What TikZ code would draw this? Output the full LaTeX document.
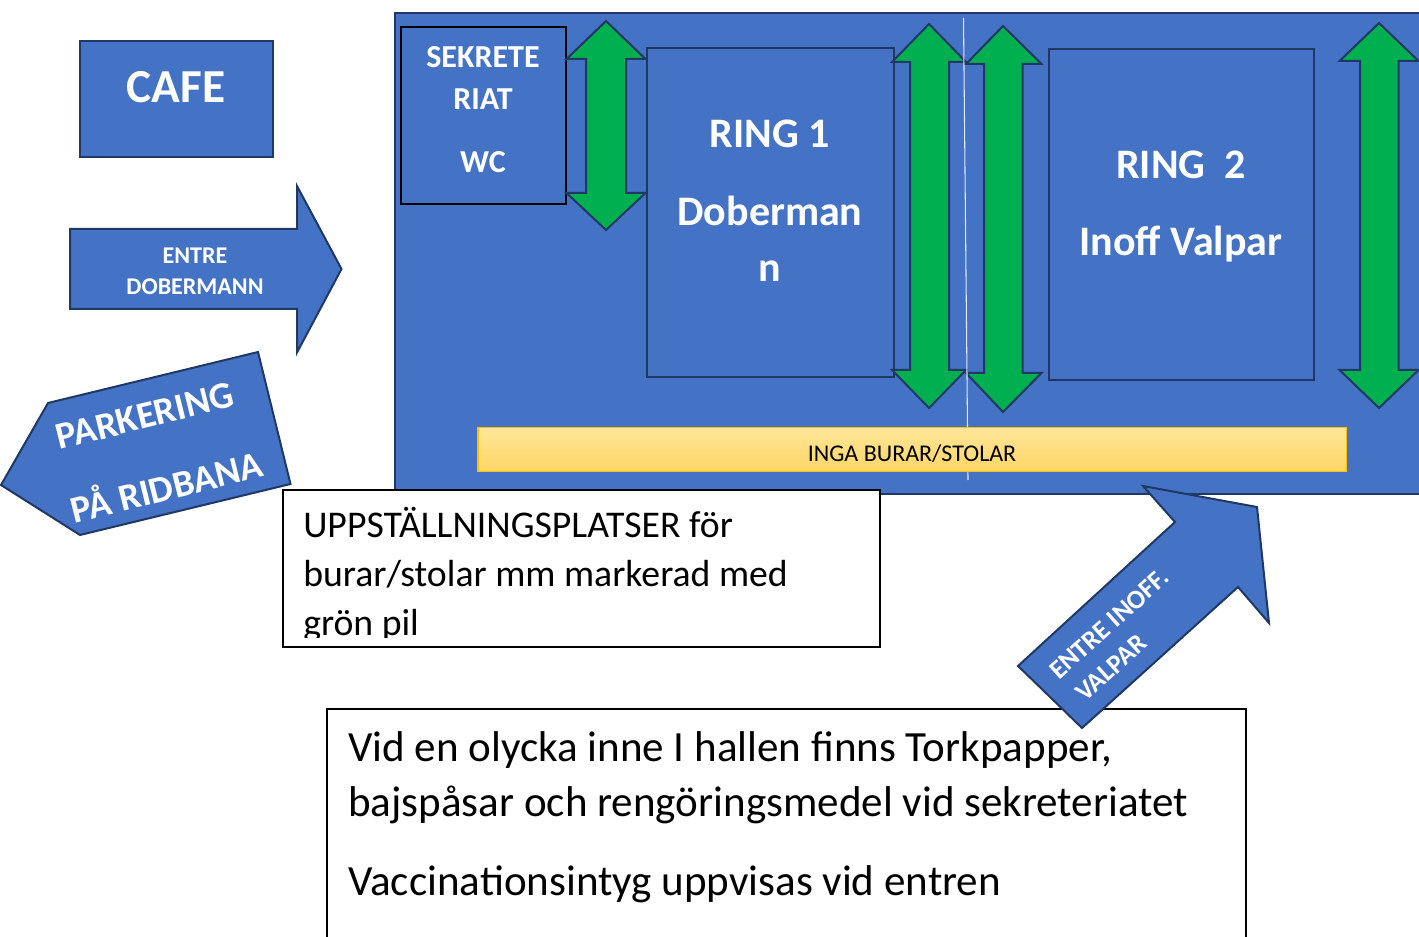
\documentclass[tikz,border=0pt]{standalone}
\usepackage{fontspec}
\setmainfont{Carlito}
\usepackage{tikz}
\definecolor{hallblue}{RGB}{68,114,196}
\definecolor{edgenavy}{RGB}{32,56,100}
\definecolor{pilgreen}{RGB}{0,176,80}
\definecolor{barlight}{RGB}{255,230,153}
\definecolor{bardark}{RGB}{255,214,102}
\definecolor{baredge}{RGB}{255,192,0}

\begin{document}
\begin{tikzpicture}[x=0.75pt,y=0.75pt,yscale=-1,xscale=1,
  blueshape/.style={draw=edgenavy,fill=hallblue,line width=1.5pt},
  greenpil/.style={draw=edgenavy,fill=pilgreen,line width=1.5pt},
  textbox/.style={draw=black,fill=white,line width=1pt},
  sekrtext/.style={text=white,inner sep=0pt,anchor=base,font=\fontsize{24}{29}\selectfont\bfseries},
  ringtext/.style={text=white,inner sep=0pt,anchor=base,font=\fontsize{31.5}{38}\selectfont\bfseries},
  cafetext/.style={text=white,inner sep=0pt,anchor=base,font=\fontsize{35.5}{42}\selectfont\bfseries},
  skylttext/.style={text=white,inner sep=0pt,anchor=base,font=\fontsize{18}{22}\selectfont\bfseries},
  parktext/.style={text=white,inner sep=0pt,rotate=14,font=\fontsize{28.4}{34}\selectfont\bfseries},
  inofftext/.style={text=white,inner sep=0pt,rotate=42,font=\fontsize{20}{24}\selectfont\bfseries},
  bartext/.style={text=black,inner sep=0pt,anchor=base,font=\fontsize{18}{22}\selectfont},
  notetext/.style={text=black,inner sep=0pt,anchor=base west,font=\fontsize{28.3}{34}\selectfont},
  infotext/.style={text=black,inner sep=0pt,anchor=base west,font=\fontsize{32.3}{38}\selectfont}
]
\useasboundingbox (0,0) rectangle (1419,937);

%Shape: Rectangle (hallen)
\draw [blueshape] (394.5,13) rectangle (1430,494) ;
%Shape: Rectangle (sekretariat)
\draw [fill=hallblue,draw=black,line width=1.6pt] (401,27) rectangle (566,204) ;
%Shape: Rectangle (ring 1)
\draw [blueshape] (646.5,48) rectangle (894,377) ;
%Shape: Rectangle (ring 2)
\draw [blueshape] (1049,49) rectangle (1314,380) ;

%Up Down Arrow
\draw [greenpil] (606,21) -- (645.5,59) -- (626,59) -- (626,193) -- (645.5,193) -- (606,230) -- (566.5,193) -- (586,193) -- (586,59) -- (566.5,59) -- cycle ;
%Up Down Arrow
\draw [greenpil] (929,24) -- (966,62) -- (949,62) -- (949,370) -- (966,370) -- (929,408) -- (892,370) -- (910,370) -- (910,62) -- (892,62) -- cycle ;
%Up Down Arrow
\draw [greenpil] (1003,26) -- (1041.5,64) -- (1022.5,64) -- (1022.5,373) -- (1041.5,373) -- (1003,412) -- (966,373) -- (984,373) -- (984,64) -- (966,64) -- cycle ;
%Up Down Arrow
\draw [greenpil] (1379,23) -- (1418.5,61) -- (1398.5,61) -- (1398.5,370) -- (1418.5,370) -- (1379,408) -- (1339.5,370) -- (1360,370) -- (1360,61) -- (1339.5,61) -- cycle ;

%Straight Lines
\draw [color=white,line width=0.8pt,opacity=0.85] (963.5,18) -- (968,480) ;

%Shape: Rectangle (ingen plats)
\draw [draw=baredge,top color=barlight,bottom color=bardark,line width=1pt] (478,427.5) rectangle (1346.5,471.5) ;

%Shape: Rectangle (cafe)
\draw [blueshape] (80,41) rectangle (273,157) ;
%Right Arrow
\draw [blueshape] (70,229) -- (297,229) -- (297,186) -- (341.5,269) -- (297,352.5) -- (297,309) -- (70,309) -- cycle ;
%Shape: Pentagon
\draw [blueshape] (1,485) -- (48,403) -- (258,352) -- (290.5,484) -- (80,535) -- cycle ;

%Shape: Rectangle (uppstallning)
\draw [textbox] (283,490) rectangle (880,647) ;
%Shape: Rectangle (info)
\draw [textbox] (327,709) rectangle (1246,950) ;

%Up Right Arrow
\draw [blueshape] (1018,666) -- (1175,522) -- (1143,486) -- (1257,507) -- (1269,623) -- (1238,587) -- (1082,728) -- cycle ;

% Text Node
\draw (483,68) node [sekrtext] (sekr1) {SEKRETE};
\draw (483,110) node [sekrtext] (sekr2) {RIAT};
\draw (483,173) node [sekrtext] (wc) {WC};
% Text Node
\draw (770,147.5) node [ringtext] (ring1) {RING 1};
\draw (770,225.5) node [ringtext] (dob1) {Doberman};
\draw (770,282) node [ringtext] (dob2) {n};
% Text Node
\draw (1181,178.5) node [ringtext] (ring2) {RING\ \ 2};
\draw (1181,255.5) node [ringtext] (valpar) {Inoff Valpar};
% Text Node
\draw (912,461) node [bartext] (inga) {INGA BURAR/STOLAR};
% Text Node
\draw (176,103) node [cafetext] (cafe) {CAFE};
\draw (195,264) node [skylttext] (entre1) {ENTRE};
\draw (195,295) node [skylttext] (entre2) {DOBERMANN};
% Text Node
\draw (145,416) node [parktext] (park1) {PARKERING};
\draw (166,484) node [parktext] (park2) {PÅ RIDBANA};
% Text Node
\draw (1109,624) node [inofftext] (inoff1) {ENTRE INOFF.};
\draw (1111,668) node [inofftext] (inoff2) {VALPAR};
% Text Node
\begin{scope}
\clip (283,490) rectangle (880,637);
\draw (303,537) node [notetext] (upp1) {UPPSTÄLLNINGSPLATSER för};
\draw (303,586) node [notetext] (upp2) {burar/stolar mm markerad med};
\draw (303,635) node [notetext] (upp3) {grön pil};
\end{scope}
% Text Node
\draw (348,761) node [infotext] (info1) {Vid en olycka inne I hallen finns Torkpapper,};
\draw (348,816) node [infotext] (info2) {bajspåsar och rengöringsmedel vid sekreteriatet};
\draw (348,895) node [infotext] (info3) {Vaccinationsintyg uppvisas vid entren};

\end{tikzpicture}
\end{document}
